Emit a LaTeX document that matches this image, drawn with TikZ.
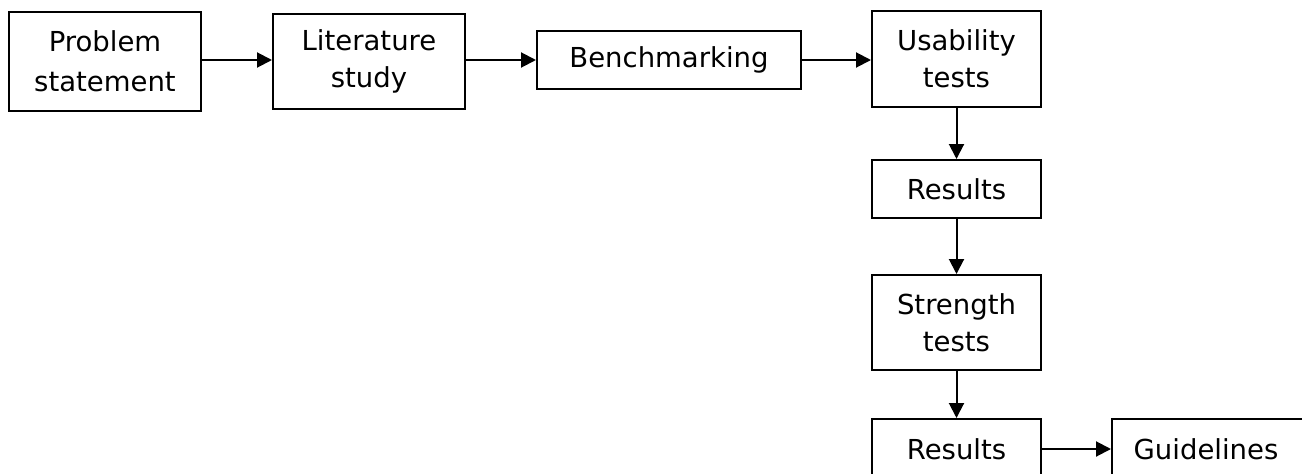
\documentclass[tikz,border=0pt]{standalone}
\usepackage{fontspec}
\setmainfont{DejaVu Sans}
\usetikzlibrary{arrows.meta}
\begin{document}
\begin{tikzpicture}[x=1pt,y=-1pt,
  box/.style={draw=black, line width=2pt, align=center, inner sep=0pt,
    font=\fontsize{27.5}{37}\selectfont},
  arr/.style={line width=2pt, -{Triangle[length=15pt,width=15pt]}}]
\useasboundingbox (0,0) rectangle (1302,474);
\clip (0,0) rectangle (1302,474);
\node[box, minimum width=192pt, minimum height=99pt, font=\fontsize{27.5}{40}\selectfont] (p) at (105,61) {Problem\\statement};
\node[box, minimum width=192pt, minimum height=95pt] (l) at (369,61) {Literature\\study};
\node[box, minimum width=264pt, minimum height=58pt] (b) at (669,60) {Benchmarking};
\node[box, minimum width=169pt, minimum height=96pt] (u) at (956.5,59) {Usability\\tests};
\node[box, minimum width=169pt, minimum height=58pt] (r1) at (956.5,189) {Results};
\node[box, minimum width=169pt, minimum height=95pt] (s) at (956.5,322.5) {Strength\\tests};
\node[box, minimum width=169pt, minimum height=60pt] (r2) at (956.5,449) {Results};
\node[box, minimum width=196pt, minimum height=60pt] (g) at (1210,449) {\hspace*{-8pt}Guidelines};
\draw[arr] (p.east |- 0,60) -- (l.west |- 0,60);
\draw[arr] (l.east |- b.west) -- (b.west);
\draw[arr] (b.east) -- (u.west |- b.east);
\draw[arr] (u.south) -- (r1.north);
\draw[arr] (r1.south) -- (s.north);
\draw[arr] (s.south) -- (r2.north);
\draw[arr] (r2.east) -- (g.west);
\end{tikzpicture}
\end{document}
